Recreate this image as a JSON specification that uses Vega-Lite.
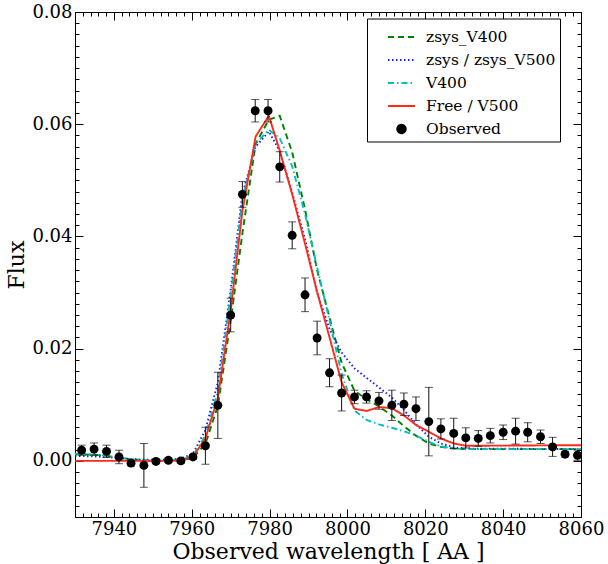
{
  "$schema": "https://vega.github.io/schema/vega-lite/v6.json",
  "width": 506,
  "height": 505,
  "autosize": {"type": "none"},
  "padding": {"left": 75, "top": 12, "right": 27, "bottom": 47},
  "background": "white",
  "config": {
    "font": "DejaVu Serif",
    "view": {"stroke": "black", "strokeWidth": 1},
    "legend": {"labelFont": "DejaVu Serif", "labelFontSize": 15.5, "labelColor": "black"},
    "axis": {
      "domain": false, "grid": false, "tickColor": "black", "tickWidth": 1,
      "labelFont": "DejaVu Serif", "labelFontSize": 18, "labelColor": "black",
      "titleFont": "DejaVu Serif", "titleFontSize": 22, "titleFontWeight": "normal", "titleColor": "black",
      "labelFlush": false, "labelOverlap": false, "labelBound": false
    }
  },
  "datasets": {
    "obs": [
      {"wl": 7931.7, "flux": 0.0019, "err": 0.0009},
      {"wl": 7934.9, "flux": 0.0021, "err": 0.0011},
      {"wl": 7938.1, "flux": 0.0017, "err": 0.0011},
      {"wl": 7941.3, "flux": 0.0007, "err": 0.0012},
      {"wl": 7944.4, "flux": -0.0004, "err": 0.0005},
      {"wl": 7947.7, "flux": -0.0008, "err": 0.0039},
      {"wl": 7950.8, "flux": -0.0001, "err": 0.0004},
      {"wl": 7954.0, "flux": 0.0001, "err": 0.0004},
      {"wl": 7957.2, "flux": 0.0000, "err": 0.0004},
      {"wl": 7960.3, "flux": 0.0007, "err": 0.0004},
      {"wl": 7963.5, "flux": 0.0027, "err": 0.0033},
      {"wl": 7966.7, "flux": 0.0099, "err": 0.0059},
      {"wl": 7970.0, "flux": 0.0260, "err": 0.0030},
      {"wl": 7973.0, "flux": 0.0475, "err": 0.0023},
      {"wl": 7976.3, "flux": 0.0624, "err": 0.0020},
      {"wl": 7979.6, "flux": 0.0624, "err": 0.0020},
      {"wl": 7982.6, "flux": 0.0524, "err": 0.0027},
      {"wl": 7985.8, "flux": 0.0402, "err": 0.0024},
      {"wl": 7989.1, "flux": 0.0296, "err": 0.0030},
      {"wl": 7992.2, "flux": 0.0219, "err": 0.0030},
      {"wl": 7995.4, "flux": 0.0157, "err": 0.0025},
      {"wl": 7998.5, "flux": 0.0121, "err": 0.0032},
      {"wl": 8001.8, "flux": 0.0114, "err": 0.0012},
      {"wl": 8004.9, "flux": 0.0114, "err": 0.0011},
      {"wl": 8008.1, "flux": 0.0107, "err": 0.0015},
      {"wl": 8011.4, "flux": 0.0099, "err": 0.0027},
      {"wl": 8014.5, "flux": 0.0101, "err": 0.0020},
      {"wl": 8017.6, "flux": 0.0093, "err": 0.0021},
      {"wl": 8020.9, "flux": 0.0070, "err": 0.0061},
      {"wl": 8024.0, "flux": 0.0057, "err": 0.0018},
      {"wl": 8027.3, "flux": 0.0049, "err": 0.0027},
      {"wl": 8030.4, "flux": 0.0041, "err": 0.0018},
      {"wl": 8033.6, "flux": 0.0040, "err": 0.0014},
      {"wl": 8036.7, "flux": 0.0045, "err": 0.0013},
      {"wl": 8040.0, "flux": 0.0051, "err": 0.0013},
      {"wl": 8043.2, "flux": 0.0053, "err": 0.0023},
      {"wl": 8046.3, "flux": 0.0051, "err": 0.0017},
      {"wl": 8049.6, "flux": 0.0043, "err": 0.0012},
      {"wl": 8052.7, "flux": 0.0025, "err": 0.0017},
      {"wl": 8055.9, "flux": 0.0012, "err": 0.0005},
      {"wl": 8059.1, "flux": 0.0010, "err": 0.0009}
    ],
    "models": [
      {"series": "zsys_V400", "wl": 7930, "flux": 0.0012},
      {"series": "zsys_V400", "wl": 7934.9, "flux": 0.0011},
      {"series": "zsys_V400", "wl": 7938.1, "flux": 0.0009},
      {"series": "zsys_V400", "wl": 7941.3, "flux": 0.0006},
      {"series": "zsys_V400", "wl": 7944.4, "flux": 0.0003},
      {"series": "zsys_V400", "wl": 7947.7, "flux": 0.0001},
      {"series": "zsys_V400", "wl": 7950.8, "flux": 0.0},
      {"series": "zsys_V400", "wl": 7954.0, "flux": 0.0},
      {"series": "zsys_V400", "wl": 7957.2, "flux": 0.0001},
      {"series": "zsys_V400", "wl": 7960.3, "flux": 0.0005},
      {"series": "zsys_V400", "wl": 7963.5, "flux": 0.0030},
      {"series": "zsys_V400", "wl": 7966.7, "flux": 0.0098},
      {"series": "zsys_V400", "wl": 7970.0, "flux": 0.0250},
      {"series": "zsys_V400", "wl": 7973.0, "flux": 0.0405},
      {"series": "zsys_V400", "wl": 7976.4, "flux": 0.0565},
      {"series": "zsys_V400", "wl": 7979.8, "flux": 0.0608},
      {"series": "zsys_V400", "wl": 7982.6, "flux": 0.0615},
      {"series": "zsys_V400", "wl": 7985.8, "flux": 0.0550},
      {"series": "zsys_V400", "wl": 7989.1, "flux": 0.0448},
      {"series": "zsys_V400", "wl": 7992.2, "flux": 0.0340},
      {"series": "zsys_V400", "wl": 7995.4, "flux": 0.0255},
      {"series": "zsys_V400", "wl": 7998.5, "flux": 0.0175},
      {"series": "zsys_V400", "wl": 8001.8, "flux": 0.0125},
      {"series": "zsys_V400", "wl": 8004.9, "flux": 0.0110},
      {"series": "zsys_V400", "wl": 8008.1, "flux": 0.0097},
      {"series": "zsys_V400", "wl": 8011.4, "flux": 0.0081},
      {"series": "zsys_V400", "wl": 8014.5, "flux": 0.0062},
      {"series": "zsys_V400", "wl": 8017.6, "flux": 0.0045},
      {"series": "zsys_V400", "wl": 8020.9, "flux": 0.0031},
      {"series": "zsys_V400", "wl": 8024.0, "flux": 0.0025},
      {"series": "zsys_V400", "wl": 8027.3, "flux": 0.0022},
      {"series": "zsys_V400", "wl": 8030.4, "flux": 0.0021},
      {"series": "zsys_V400", "wl": 8060, "flux": 0.0021},
      {"series": "zsys / zsys_V500", "wl": 7930, "flux": 0.0009},
      {"series": "zsys / zsys_V500", "wl": 7934.9, "flux": 0.0008},
      {"series": "zsys / zsys_V500", "wl": 7938.1, "flux": 0.0007},
      {"series": "zsys / zsys_V500", "wl": 7941.3, "flux": 0.0005},
      {"series": "zsys / zsys_V500", "wl": 7944.4, "flux": 0.0003},
      {"series": "zsys / zsys_V500", "wl": 7947.7, "flux": 0.0002},
      {"series": "zsys / zsys_V500", "wl": 7950.8, "flux": 0.0002},
      {"series": "zsys / zsys_V500", "wl": 7954.0, "flux": 0.0002},
      {"series": "zsys / zsys_V500", "wl": 7957.2, "flux": 0.0004},
      {"series": "zsys / zsys_V500", "wl": 7960.3, "flux": 0.0013},
      {"series": "zsys / zsys_V500", "wl": 7963.5, "flux": 0.0055},
      {"series": "zsys / zsys_V500", "wl": 7966.7, "flux": 0.0140},
      {"series": "zsys / zsys_V500", "wl": 7970.0, "flux": 0.0305},
      {"series": "zsys / zsys_V500", "wl": 7973.0, "flux": 0.0475},
      {"series": "zsys / zsys_V500", "wl": 7976.4, "flux": 0.0560},
      {"series": "zsys / zsys_V500", "wl": 7979.8, "flux": 0.0587},
      {"series": "zsys / zsys_V500", "wl": 7982.6, "flux": 0.0552},
      {"series": "zsys / zsys_V500", "wl": 7985.8, "flux": 0.0478},
      {"series": "zsys / zsys_V500", "wl": 7989.1, "flux": 0.0395},
      {"series": "zsys / zsys_V500", "wl": 7992.2, "flux": 0.0300},
      {"series": "zsys / zsys_V500", "wl": 7995.4, "flux": 0.0235},
      {"series": "zsys / zsys_V500", "wl": 7998.5, "flux": 0.0193},
      {"series": "zsys / zsys_V500", "wl": 8001.8, "flux": 0.0165},
      {"series": "zsys / zsys_V500", "wl": 8004.9, "flux": 0.0148},
      {"series": "zsys / zsys_V500", "wl": 8008.1, "flux": 0.0131},
      {"series": "zsys / zsys_V500", "wl": 8011.4, "flux": 0.0113},
      {"series": "zsys / zsys_V500", "wl": 8014.5, "flux": 0.0091},
      {"series": "zsys / zsys_V500", "wl": 8017.6, "flux": 0.0065},
      {"series": "zsys / zsys_V500", "wl": 8020.9, "flux": 0.0043},
      {"series": "zsys / zsys_V500", "wl": 8024.0, "flux": 0.0031},
      {"series": "zsys / zsys_V500", "wl": 8027.3, "flux": 0.0024},
      {"series": "zsys / zsys_V500", "wl": 8030.4, "flux": 0.0022},
      {"series": "zsys / zsys_V500", "wl": 8060, "flux": 0.0021},
      {"series": "V400", "wl": 7930, "flux": 0.0013},
      {"series": "V400", "wl": 7934.9, "flux": 0.0011},
      {"series": "V400", "wl": 7938.1, "flux": 0.0009},
      {"series": "V400", "wl": 7941.3, "flux": 0.0006},
      {"series": "V400", "wl": 7944.4, "flux": 0.0003},
      {"series": "V400", "wl": 7947.7, "flux": 0.0001},
      {"series": "V400", "wl": 7950.8, "flux": 0.0001},
      {"series": "V400", "wl": 7954.0, "flux": 0.0001},
      {"series": "V400", "wl": 7957.2, "flux": 0.0002},
      {"series": "V400", "wl": 7960.3, "flux": 0.0009},
      {"series": "V400", "wl": 7963.5, "flux": 0.0045},
      {"series": "V400", "wl": 7966.7, "flux": 0.0125},
      {"series": "V400", "wl": 7970.0, "flux": 0.0295},
      {"series": "V400", "wl": 7973.0, "flux": 0.0465},
      {"series": "V400", "wl": 7976.4, "flux": 0.0565},
      {"series": "V400", "wl": 7979.8, "flux": 0.0590},
      {"series": "V400", "wl": 7982.6, "flux": 0.0575},
      {"series": "V400", "wl": 7985.8, "flux": 0.0525},
      {"series": "V400", "wl": 7989.1, "flux": 0.0440},
      {"series": "V400", "wl": 7992.2, "flux": 0.0345},
      {"series": "V400", "wl": 7995.4, "flux": 0.0250},
      {"series": "V400", "wl": 7998.5, "flux": 0.0155},
      {"series": "V400", "wl": 8001.8, "flux": 0.0090},
      {"series": "V400", "wl": 8004.9, "flux": 0.0073},
      {"series": "V400", "wl": 8008.1, "flux": 0.0065},
      {"series": "V400", "wl": 8011.4, "flux": 0.0059},
      {"series": "V400", "wl": 8014.5, "flux": 0.0053},
      {"series": "V400", "wl": 8017.6, "flux": 0.0045},
      {"series": "V400", "wl": 8020.9, "flux": 0.0034},
      {"series": "V400", "wl": 8024.0, "flux": 0.0026},
      {"series": "V400", "wl": 8027.3, "flux": 0.0022},
      {"series": "V400", "wl": 8030.4, "flux": 0.0021},
      {"series": "V400", "wl": 8060, "flux": 0.0021},
      {"series": "Free / V500", "wl": 7930, "flux": 0.0},
      {"series": "Free / V500", "wl": 7954.0, "flux": 0.0},
      {"series": "Free / V500", "wl": 7957.2, "flux": 0.0001},
      {"series": "Free / V500", "wl": 7960.3, "flux": 0.0007},
      {"series": "Free / V500", "wl": 7963.5, "flux": 0.0040},
      {"series": "Free / V500", "wl": 7966.7, "flux": 0.0112},
      {"series": "Free / V500", "wl": 7970.0, "flux": 0.0268},
      {"series": "Free / V500", "wl": 7973.0, "flux": 0.0445},
      {"series": "Free / V500", "wl": 7976.4, "flux": 0.0578},
      {"series": "Free / V500", "wl": 7979.8, "flux": 0.0615},
      {"series": "Free / V500", "wl": 7982.6, "flux": 0.0553},
      {"series": "Free / V500", "wl": 7985.8, "flux": 0.0475},
      {"series": "Free / V500", "wl": 7989.1, "flux": 0.0387},
      {"series": "Free / V500", "wl": 7992.2, "flux": 0.0301},
      {"series": "Free / V500", "wl": 7995.4, "flux": 0.0220},
      {"series": "Free / V500", "wl": 7998.5, "flux": 0.0140},
      {"series": "Free / V500", "wl": 8001.8, "flux": 0.0093},
      {"series": "Free / V500", "wl": 8004.9, "flux": 0.0089},
      {"series": "Free / V500", "wl": 8008.1, "flux": 0.0096},
      {"series": "Free / V500", "wl": 8011.4, "flux": 0.0094},
      {"series": "Free / V500", "wl": 8014.5, "flux": 0.0081},
      {"series": "Free / V500", "wl": 8017.6, "flux": 0.0064},
      {"series": "Free / V500", "wl": 8020.9, "flux": 0.0052},
      {"series": "Free / V500", "wl": 8024.0, "flux": 0.0040},
      {"series": "Free / V500", "wl": 8027.3, "flux": 0.0031},
      {"series": "Free / V500", "wl": 8030.4, "flux": 0.0027},
      {"series": "Free / V500", "wl": 8033.6, "flux": 0.0027},
      {"series": "Free / V500", "wl": 8060, "flux": 0.0028}
    ]
  },
  "resolve": {"axis": {"x": "independent", "y": "independent"}},
  "layer": [
    {
      "data": {"name": "models"},
      "mark": {"type": "line", "strokeWidth": 1.9, "clip": true},
      "encoding": {
        "x": {"field": "wl", "type": "quantitative",
          "scale": {"domain": [7930, 8060], "nice": false, "zero": false},
          "axis": {"orient": "bottom", "values": [7940, 7960, 7980, 8000, 8020, 8040, 8060], "format": "d",
            "tickSize": -8, "labelPadding": 11, "title": "Observed wavelength [ AA ]", "titlePadding": 3}},
        "y": {"field": "flux", "type": "quantitative",
          "scale": {"domain": [-0.01, 0.08], "nice": false, "zero": false},
          "axis": {"orient": "left", "values": [0, 0.02, 0.04, 0.06, 0.08], "format": ".2f",
            "tickSize": -8, "labelPadding": 11, "title": "Flux", "titlePadding": 3}},
        "color": {"field": "series", "type": "nominal",
          "scale": {"domain": ["zsys_V400", "zsys / zsys_V500", "V400", "Free / V500", "Observed"],
                    "range": ["#008000", "#1a1aff", "#00bfbf", "#ff2a1a", "black"]},
          "legend": {"title": null, "orient": "none", "legendX": 292, "legendY": 6.5, "padding": 4,
            "strokeColor": "black", "fillColor": "white", "cornerRadius": 0,
            "labelFont": "DejaVu Serif", "labelFontSize": 15.5, "labelColor": "black",
            "symbolType": "stroke", "symbolSize": 729, "symbolStrokeWidth": 2, "rowPadding": -7.5,
            "labelOffset": 10, "symbolOffset": 16,
            "labelExpr": "datum.label + '\u00a0\u00a0'",
            "encode": {"symbols": {"update": {
              "shape": {"signal": "datum.value === 'Observed' ? 'circle' : 'stroke'"},
              "fill": {"signal": "datum.value === 'Observed' ? 'black' : 'transparent'"},
              "size": {"signal": "datum.value === 'Observed' ? 70 : 729"}
            }}}}},
        "strokeDash": {"field": "series", "type": "nominal",
          "scale": {"domain": ["zsys_V400", "zsys / zsys_V500", "V400", "Free / V500", "Observed"],
                    "range": [[6, 4], [1.5, 2.5], [6, 3, 1.5, 3], [1, 0], [1, 0]]},
          "legend": null}
      }
    },
    {
      "data": {"name": "obs"},
      "mark": {"type": "errorbar", "ticks": {"size": 8, "thickness": 1, "color": "#111"}, "rule": {"strokeWidth": 1, "color": "#111"}},
      "encoding": {
        "x": {"field": "wl", "type": "quantitative", "axis": null},
        "y": {"field": "flux", "type": "quantitative", "axis": null},
        "yError": {"field": "err"}
      }
    },
    {
      "data": {"name": "obs"},
      "mark": {"type": "point", "filled": true, "size": 80, "opacity": 1},
      "encoding": {
        "x": {"field": "wl", "type": "quantitative",
          "axis": {"orient": "top", "values": [7940, 7960, 7980, 8000, 8020, 8040, 8060], "tickSize": -8, "labels": false, "title": null}},
        "y": {"field": "flux", "type": "quantitative",
          "axis": {"orient": "right", "values": [0, 0.02, 0.04, 0.06, 0.08], "tickSize": -8, "labels": false, "title": null}},
        "color": {"datum": "Observed"}
      }
    },
    {
      "data": {"name": "obs"},
      "mark": {"type": "point", "opacity": 0},
      "encoding": {
        "x": {"field": "wl", "type": "quantitative",
          "axis": {"orient": "bottom", "values": [7930,7932,7934,7936,7938,7940,7942,7944,7946,7948,7950,7952,7954,7956,7958,7960,7962,7964,7966,7968,7970,7972,7974,7976,7978,7980,7982,7984,7986,7988,7990,7992,7994,7996,7998,8000,8002,8004,8006,8008,8010,8012,8014,8016,8018,8020,8022,8024,8026,8028,8030,8032,8034,8036,8038,8040,8042,8044,8046,8048,8050,8052,8054,8056,8058,8060], "tickSize": -4, "labels": false, "title": null}},
        "y": {"field": "flux", "type": "quantitative",
          "axis": {"orient": "left", "values": [-0.01,-0.008,-0.006,-0.004,-0.002,0,0.002,0.004,0.006,0.008,0.01,0.012,0.014,0.016,0.018,0.02,0.022,0.024,0.026,0.028,0.03,0.032,0.034,0.036,0.038,0.04,0.042,0.044,0.046,0.048,0.05,0.052,0.054,0.056,0.058,0.06,0.062,0.064,0.066,0.068,0.07,0.072,0.074,0.076,0.078,0.08], "tickSize": -4, "labels": false, "title": null}}
      }
    },
    {
      "data": {"name": "obs"},
      "mark": {"type": "point", "opacity": 0},
      "encoding": {
        "x": {"field": "wl", "type": "quantitative",
          "axis": {"orient": "top", "values": [7930,7932,7934,7936,7938,7940,7942,7944,7946,7948,7950,7952,7954,7956,7958,7960,7962,7964,7966,7968,7970,7972,7974,7976,7978,7980,7982,7984,7986,7988,7990,7992,7994,7996,7998,8000,8002,8004,8006,8008,8010,8012,8014,8016,8018,8020,8022,8024,8026,8028,8030,8032,8034,8036,8038,8040,8042,8044,8046,8048,8050,8052,8054,8056,8058,8060], "tickSize": -4, "labels": false, "title": null}},
        "y": {"field": "flux", "type": "quantitative",
          "axis": {"orient": "right", "values": [-0.01,-0.008,-0.006,-0.004,-0.002,0,0.002,0.004,0.006,0.008,0.01,0.012,0.014,0.016,0.018,0.02,0.022,0.024,0.026,0.028,0.03,0.032,0.034,0.036,0.038,0.04,0.042,0.044,0.046,0.048,0.05,0.052,0.054,0.056,0.058,0.06,0.062,0.064,0.066,0.068,0.07,0.072,0.074,0.076,0.078,0.08], "tickSize": -4, "labels": false, "title": null}}
      }
    }
  ]
}
